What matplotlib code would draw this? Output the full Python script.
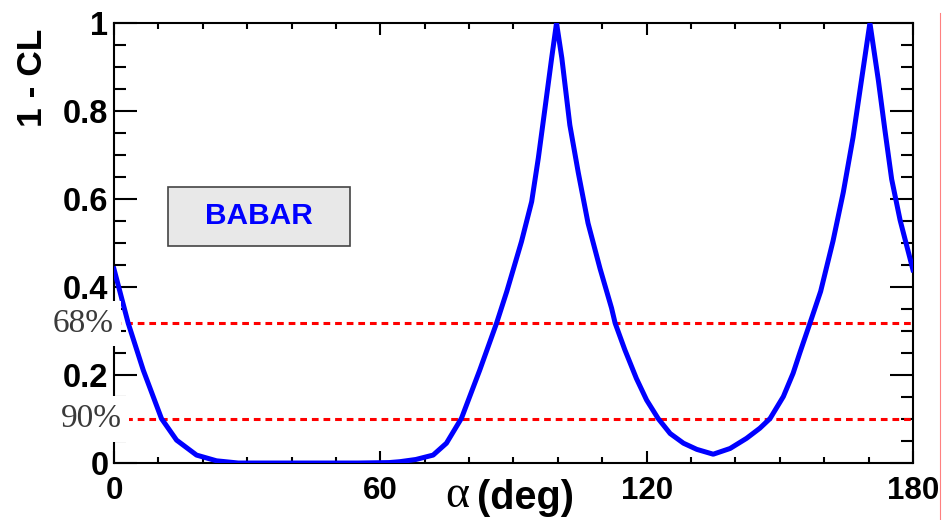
import matplotlib
matplotlib.use('Agg')
import matplotlib.pyplot as plt
import matplotlib.transforms as mtransforms
from matplotlib.ticker import MultipleLocator
from matplotlib.lines import Line2D
from matplotlib.patches import Rectangle

# alpha (deg) e 1 - CL
alpha = [0, 3.2, 6.6, 10.7, 14.1, 18.6, 23.1, 28, 35, 45, 55, 62, 64.4, 68,
         71.9, 74.9, 78.3, 82.4, 86.2, 88.5, 91.8, 94.1, 95.6, 97.1, 98.6,
         99.7, 100.9, 102.7, 104.6, 106.8, 109.5, 112.1, 112.9, 115.1,
         117.7, 120.0, 122.6, 125.3, 128.3, 131.3, 135.0, 138.8, 142.5,
         145.5, 147.8, 150.8, 153.0, 154.5, 156.8, 159.2, 162.0, 164.3,
         166.5, 168.4, 170.3, 172.2, 173.7, 175.2, 177.1, 180]
one_minus_cl = [0.441, 0.318, 0.211, 0.101, 0.052, 0.018, 0.005, 0.0, 0.0,
                0.0, 0.0, 0.001, 0.003, 0.008, 0.018, 0.045, 0.102, 0.211,
                0.318, 0.39, 0.503, 0.594, 0.693, 0.806, 0.92, 1.0, 0.92,
                0.768, 0.66, 0.545, 0.442, 0.352, 0.318, 0.257, 0.192,
                0.143, 0.101, 0.067, 0.045, 0.031, 0.020, 0.033, 0.056,
                0.079, 0.101, 0.151, 0.204, 0.25, 0.318, 0.39, 0.505,
                0.615, 0.74, 0.87, 1.0, 0.87, 0.755, 0.645, 0.552, 0.439]

# niveis de confianca
cl_levels = [0.3173, 0.10]
cl_labels = ['68%', '90%']

fig = plt.figure(figsize=(9.45, 5.2), dpi=100)
ax = fig.add_axes([0.1206, 0.1096, 0.8455, 0.8462])

ax.plot(alpha, one_minus_cl, color='#0000ff', lw=3.6, zorder=4,
        solid_joinstyle='round')

for lvl in cl_levels:
    ax.plot([0, 180], [lvl, lvl], color='#ff0000', lw=2.2,
            linestyle=(0, (2.2, 1.6)), dash_capstyle='butt', zorder=3)

ax.set_xlim(0, 180)
ax.set_ylim(0, 1)

ax.xaxis.set_major_locator(MultipleLocator(60))
ax.xaxis.set_minor_locator(MultipleLocator(10))
ax.yaxis.set_minor_locator(MultipleLocator(0.05))
ax.set_yticks([0, 0.2, 0.4, 0.6, 0.8, 1.0])
ax.set_yticklabels(['0', '0.2', '0.4', '0.6', '0.8', '1'])

for s in ax.spines.values():
    s.set_linewidth(1.5)

ax.tick_params(axis='both', which='both', direction='in', width=1.5,
               top=True, right=True, color='black')
ax.tick_params(axis='y', which='major', length=16.5, pad=4)
ax.tick_params(axis='y', which='minor', length=8.6)
ax.tick_params(axis='x', which='major', length=8.6, pad=9)
ax.tick_params(axis='x', which='minor', length=4.3)

for lab in ax.get_yticklabels():
    lab.set_fontfamily('Liberation Sans')
    lab.set_fontweight('bold')
    lab.set_fontsize(23.5)
for lab in ax.get_xticklabels():
    lab.set_fontfamily('Liberation Sans')
    lab.set_fontweight('bold')
    lab.set_fontsize(22.5)

# titulo do eixo y
fig.text(33 / 945, 1 - 78 / 520, '1 - CL', rotation=90, ha='center',
         va='center', fontsize=25.5, fontweight='bold', family='Liberation Sans')

# titulo do eixo x: alfa em serifa + (deg) em negrito
fig.text(457 / 945, 1 - 496 / 520, '\u03b1', ha='center', va='center',
         fontsize=33, family='Liberation Serif')
fig.text(477 / 945, 1 - 498 / 520, '(deg)', ha='left', va='center',
         fontsize=28.5, fontweight='bold', family='Liberation Sans')

# caixa BABAR
ax.add_patch(Rectangle((0.0676, 0.493), 0.2278, 0.134, transform=ax.transAxes,
                       fc='#e8e8e8', ec='#444444', lw=1.2, zorder=6))
ax.text(0.1815, 0.562, 'BABAR', transform=ax.transAxes, ha='center',
        va='center', fontsize=21.5, fontweight='bold', color='#0000ff',
        family='Liberation Sans', zorder=7)

# rotulos 68% / 90% sobre o eixo
trans = mtransforms.blended_transform_factory(ax.transAxes, ax.transData)
for lvl, txt, xr in zip(cl_levels, cl_labels, [-0.001, 0.010]):
    ax.text(xr, lvl, txt, transform=trans, ha='right', va='center',
            fontsize=24, color='#3a3a3a', family='Liberation Serif',
            zorder=10, clip_on=False,
            bbox=dict(boxstyle='square,pad=0.22', fc='white', ec='none'))

# linha vertical fina na borda direita
fig.add_artist(Line2D([940 / 945, 940 / 945], [0, 1 - 13 / 520],
                      transform=fig.transFigure, color='#ff8080', lw=0.8))

fig.savefig('out.png', dpi=100)
